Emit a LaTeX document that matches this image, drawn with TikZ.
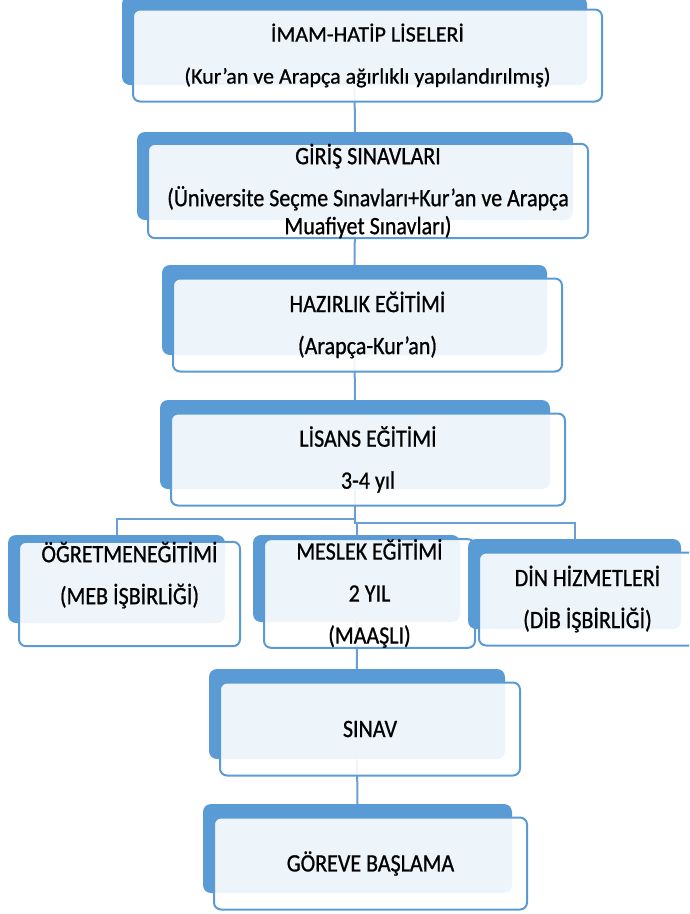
\documentclass[tikz,border=0pt]{standalone}
\usepackage{fontspec}
\setmainfont{Carlito}[FakeBold=0.8]
\newfontfamily\darharf{Carlito}[FakeStretch=0.88,FakeBold=0.8]
\usepackage{tikz}
\usetikzlibrary{positioning,backgrounds}
\definecolor{kutumavi}{HTML}{5B9BD5}
\definecolor{hatmavi}{HTML}{6A9FD6}
\newcommand{\kucukyazi}{\fontsize{22}{42}\selectfont}
\newcommand{\uzunyazi}{\fontsize{25}{42}\selectfont\darharf}

\begin{document}
\begin{tikzpicture}[x=1pt, y=-1pt,
    arka/.style={fill=kutumavi, rounded corners=8pt, inner sep=0pt},
    ust/.style={draw=kutumavi, line width=2pt, fill=white, fill opacity=0.9, text opacity=1,
        rounded corners=7pt, inner sep=0pt, align=center},
    hat/.style={draw=hatmavi, line width=2pt}]
    \useasboundingbox (0,0) rectangle (689,914);
    \clip (0,0) rectangle (689,914);
    % boxes: blue shape behind, white shape with the text in front
    \foreach \n/\x/\y/\w/\h/\yazi/\t in {
        lise/354.5/40.5/465/89/\kucukyazi/{İMAM-HATİP LİSELERİ\\(Kur’an ve Arapça ağırlıklı yapılandırılmış)},
        giris/355/176/436/88/\uzunyazi/{GİRİŞ SINAVLARI\\(Üniversite Seçme Sınavları+Kur’an ve Arapça\\[-14pt]Muafiyet Sınavları)},
        hazirlik/354.5/310/385/90/\uzunyazi/{HAZIRLIK EĞİTİMİ\\(Arapça-Kur’an)},
        lisans/355/444.5/390/89/\uzunyazi/{LİSANS EĞİTİMİ\\3-4 yıl},
        ogretmen/116.5/579/217/88/\uzunyazi/{ÖĞRETMENEĞİTİMİ\\(MEB İŞBİRLİĞİ)\\\mbox{}},
        meslek/356.5/578.5/207/87/\uzunyazi/{MESLEK EĞİTİMİ\\2 YIL\\(MAAŞLI)},
        din/574.5/584/213/90/\uzunyazi/{DİN HİZMETLERİ\\(DİB İŞBİRLİĞİ)},
        sinav/357/714/296/90/\uzunyazi/{SINAV},
        gorev/357.5/848.5/309/89/\uzunyazi/{GÖREVE BAŞLAMA}}{
        \node[arka, minimum width=\w, minimum height=\h] (\n) at (\x,\y) {};
        \node[ust, font=\yazi, minimum width=\w+4, minimum height=\h+3] (\n-u) at ([shift={(13,15)}]\n) {\t};
    }
    % connectors
    \begin{scope}[on background layer]
        \draw[hat] (lise.south) -- (giris.north);
        \draw[hat] (giris.south) -- (hazirlik.north);
        \draw[hat] (hazirlik.south) -- (lisans.north);
        \draw[hat] (lisans.south) -- ++(0,30) -| (ogretmen.north);
        \draw[hat] (lisans.south) -- ++(0,34) -| (meslek.north);
        \draw[hat] (lisans.south) -- ++(0,34) -| (din.north);
        \draw[hat] (meslek.south) -- (sinav.north);
        \draw[hat] (sinav.south) -- (gorev.north);
    \end{scope}
\end{tikzpicture}
\end{document}
